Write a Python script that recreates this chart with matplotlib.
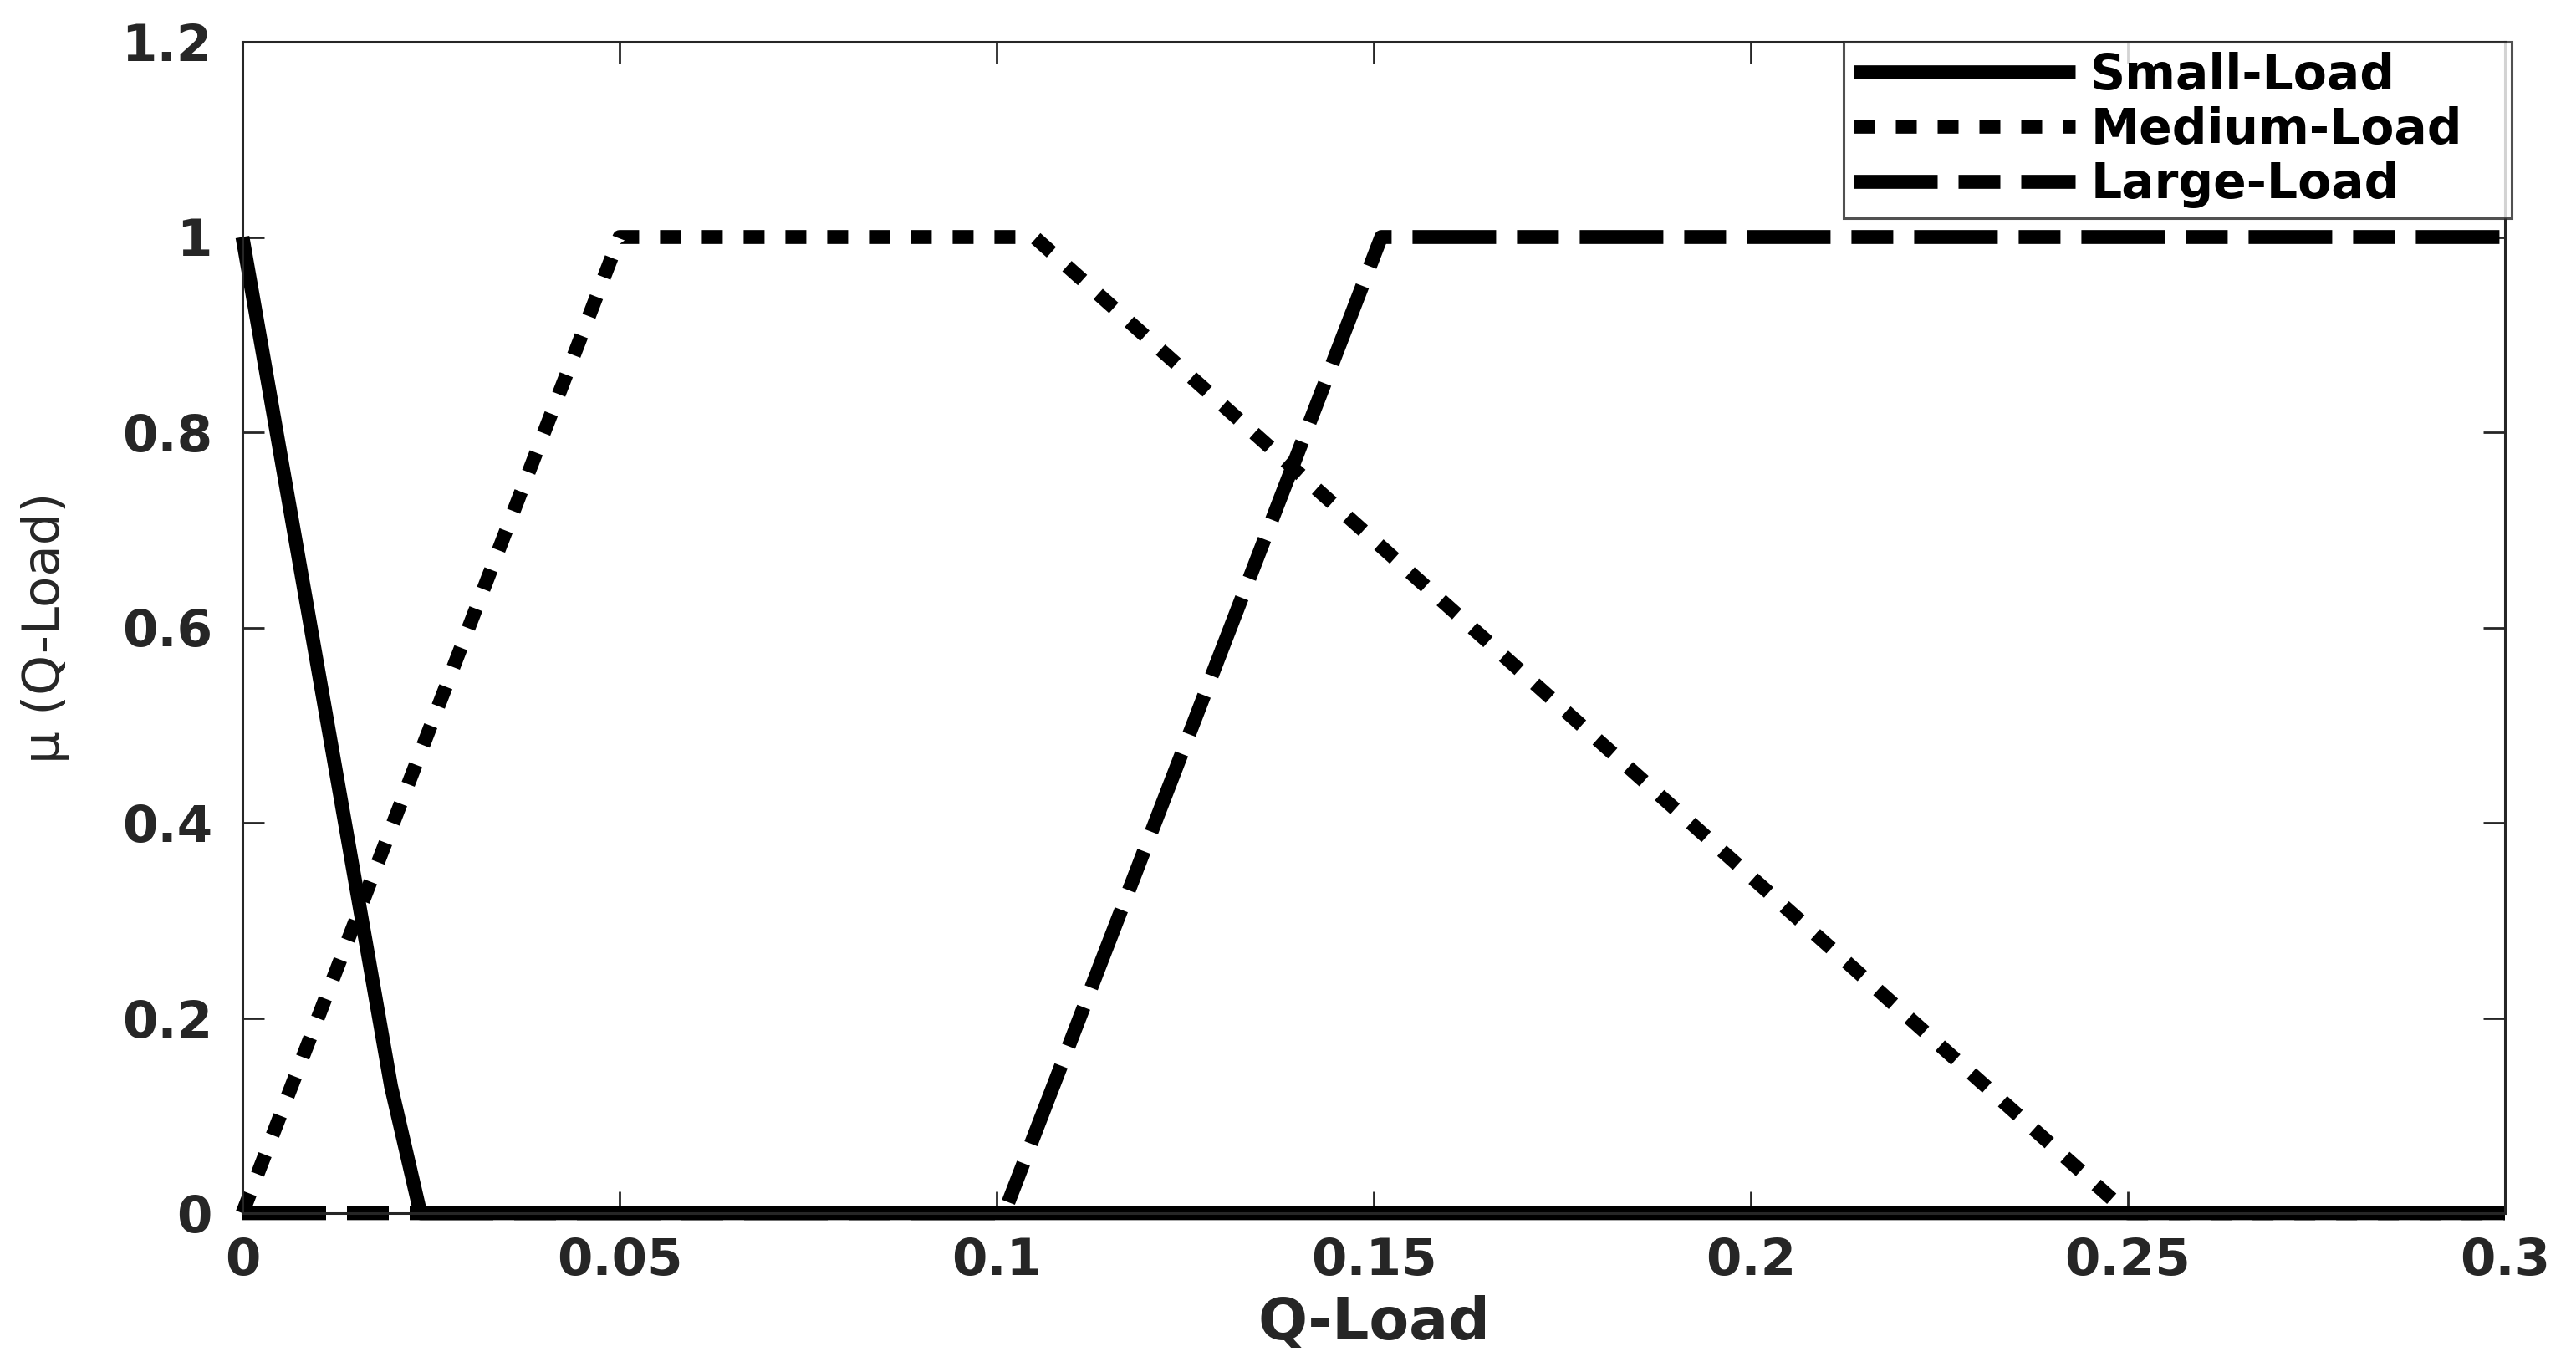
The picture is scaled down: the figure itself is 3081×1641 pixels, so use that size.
import matplotlib
matplotlib.use("Agg")
import matplotlib.pyplot as plt
import numpy as np

# membership functions for Q-Load (break points)
small_x = [0.0, 0.0197, 0.0236, 0.3]
small_y = [1.0, 0.13, 0.0, 0.0]

medium_x = [0.0, 0.05, 0.105, 0.25, 0.3]
medium_y = [0.0, 1.0, 1.0, 0.0, 0.0]

large_x = [0.0, 0.101, 0.151, 0.3]
large_y = [0.0, 0.0, 1.0, 1.0]

labels = ["Small-Load", "Medium-Load", "Large-Load"]
x_ticks = [0, 0.05, 0.1, 0.15, 0.2, 0.25, 0.3]
x_ticklabels = ["0", "0.05", "0.1", "0.15", "0.2", "0.25", "0.3"]
y_ticks = [0, 0.2, 0.4, 0.6, 0.8, 1.0, 1.2]
y_ticklabels = ["0", "0.2", "0.4", "0.6", "0.8", "1", "1.2"]

plt.rcParams["font.family"] = ["DejaVu Sans"]
plt.rcParams["lines.scale_dashes"] = False

axis_col = "#262626"
W, H = 3081, 1641

fig = plt.figure(figsize=(W / 100, H / 100), dpi=100)
ax = fig.add_axes([290 / W, 1 - 1451 / H, 2706 / W, 1401 / H])

lw = 12
ax.plot(small_x, small_y, color="black", lw=lw, linestyle="-",
        solid_capstyle="butt", clip_on=False, label=labels[0])
ax.plot(medium_x, medium_y, color="black", lw=lw, linestyle=(0, (18, 18)),
        dash_capstyle="butt", clip_on=False, label=labels[1])
ax.plot(large_x, large_y, color="black", lw=lw, linestyle=(0, (72, 18, 36, 18)),
        dash_capstyle="butt", clip_on=False, label=labels[2])

ax.set_xlim(0, 0.3)
ax.set_ylim(0, 1.2)
ax.set_xticks(x_ticks)
ax.set_xticklabels(x_ticklabels)
ax.set_yticks(y_ticks)
ax.set_yticklabels(y_ticklabels)

ax.tick_params(axis="both", direction="in", length=19, width=2,
               color=axis_col, labelcolor=axis_col, labelsize=44,
               top=True, right=True)
ax.tick_params(axis="x", pad=20)
ax.tick_params(axis="y", pad=26)
for lab in ax.get_xticklabels() + ax.get_yticklabels():
    lab.set_fontweight("bold")

for sp in ax.spines.values():
    sp.set_color(axis_col)
    sp.set_linewidth(2.2)

ax.set_xlabel("Q-Load", fontsize=50, fontweight="bold", color=axis_col)
ax.xaxis.set_label_coords(0.5, -0.07)
ax.set_ylabel("μ (Q-Load)", fontsize=44, color=axis_col)
ax.yaxis.set_label_coords(-0.087, 0.5)
ax.yaxis.label.set_va("center")

# legend box spans x 2205..3004, y 50..260 px
leg = ax.legend(loc="upper left",
                bbox_to_anchor=(2205 / W, 1 - 260 / H, 799 / W, 210 / H),
                bbox_transform=fig.transFigure, mode="expand", fontsize=42,
                handlelength=4.55, handletextpad=0.31, borderpad=0.2,
                labelspacing=0.14, frameon=True, fancybox=False,
                borderaxespad=0)
leg.get_frame().set_edgecolor(axis_col)
leg.get_frame().set_linewidth(2.2)
for t in leg.get_texts():
    t.set_fontweight("bold")
    t.set_color("black")

fig.savefig("out.png", dpi=100, facecolor="white")
